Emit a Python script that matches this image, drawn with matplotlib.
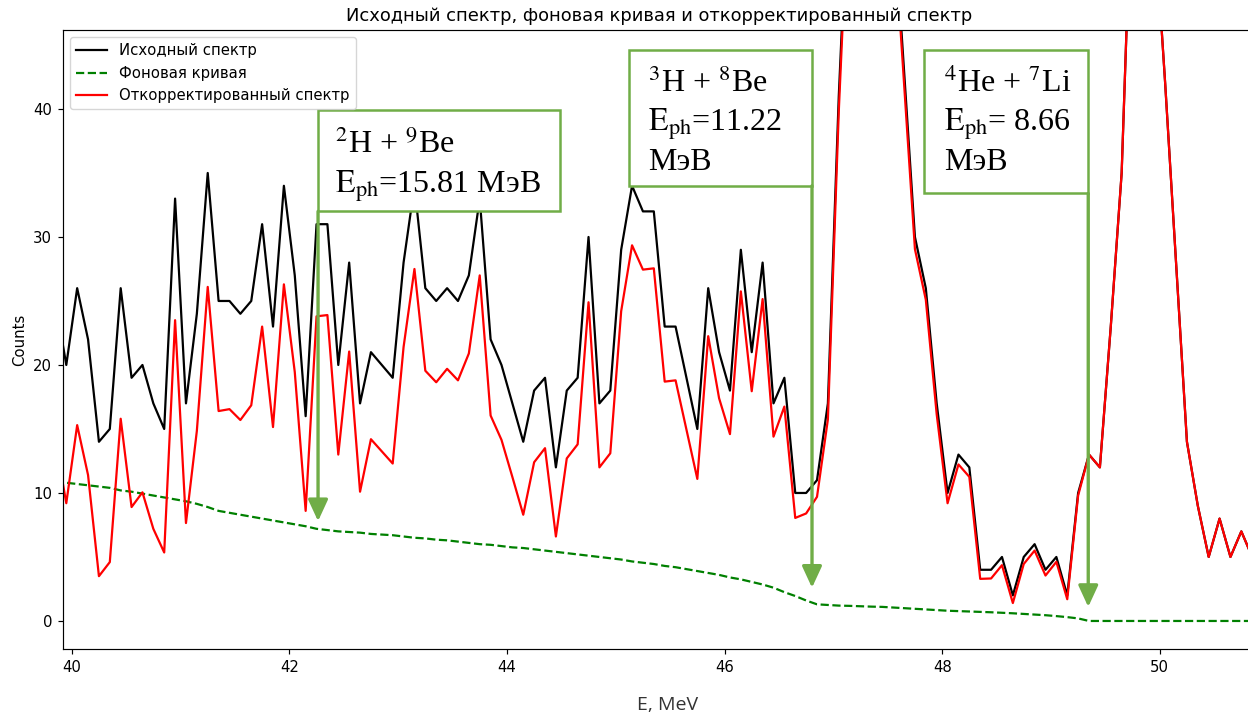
import numpy as np
import matplotlib
matplotlib.use("Agg")
import matplotlib.pyplot as plt
from matplotlib.patches import Rectangle

plt.rcParams["mathtext.fontset"] = "stix"

# Energy grid: bin centres, 0.1 MeV step
energy_start, energy_stop, n_bins = 39.85, 50.85, 111

# Raw spectrum (counts per bin)
raw_counts = [
    25, 20, 26, 22, 14, 15, 26, 19, 20, 17,
    15, 33, 17, 24, 35, 25, 25, 24, 25, 31,
    23, 34, 27, 16, 31, 31, 20, 28, 17, 21,
    20, 19, 28, 34, 26, 25, 26, 25, 27, 33,
    22, 20, 17, 14, 18, 19, 12, 18, 19, 30,
    17, 18, 29, 34, 32, 32, 23, 23, 19, 15,
    26, 21, 18, 29, 21, 28, 17, 19, 10, 10,
    11, 17, 41, 60, 85, 96, 80, 56, 43, 30,
    26, 17, 10, 13, 12, 4, 4, 5, 2, 5,
    6, 4, 5, 2, 10, 13, 12, 23, 35, 60,
    68, 55, 42, 28, 14, 9, 5, 8, 5, 7,
    5,
]

# Estimated background under the spectrum
background = [
    10.9, 10.8, 10.7, 10.6, 10.5, 10.4, 10.2, 10.1, 9.95, 9.8,
    9.65, 9.5, 9.35, 9.15, 8.9, 8.6, 8.45, 8.3, 8.15, 8.0,
    7.85, 7.7, 7.55, 7.4, 7.2, 7.1, 7.0, 6.95, 6.9, 6.8,
    6.75, 6.7, 6.6, 6.5, 6.45, 6.35, 6.3, 6.2, 6.1, 6.0,
    5.95, 5.85, 5.75, 5.7, 5.6, 5.5, 5.4, 5.3, 5.2, 5.1,
    5.0, 4.9, 4.8, 4.65, 4.55, 4.45, 4.3, 4.2, 4.05, 3.9,
    3.75, 3.6, 3.4, 3.25, 3.05, 2.85, 2.6, 2.25, 1.95, 1.6,
    1.3, 1.25, 1.2, 1.18, 1.15, 1.12, 1.1, 1.05, 1.0, 0.95,
    0.9, 0.85, 0.8, 0.77, 0.74, 0.71, 0.68, 0.64, 0.6, 0.55,
    0.5, 0.45, 0.38, 0.3, 0.2, 0.0, 0.0, 0.0, 0.0, 0.0,
    0.0, 0.0, 0.0, 0.0, 0.0, 0.0, 0.0, 0.0, 0.0, 0.0,
    0.0,
]

# Reaction annotations: box (x0, x1, y0, y1), text lines, arrow (x, y_tip)
reactions = [
    {"box": (42.264, 44.488, 32.0, 39.9),
     "lines": [r"${}^{2}$H + ${}^{9}$Be", r"$\mathrm{E}_{\mathrm{ph}}$=15.81 МэВ"],
     "baselines": [36.56, 33.44], "text_x": 42.42,
     "arrow": (42.264, 7.8)},
    {"box": (45.122, 46.804, 34.0, 44.6),
     "lines": [r"${}^{3}$H + ${}^{8}$Be", r"$\mathrm{E}_{\mathrm{ph}}$=11.22", "МэВ"],
     "baselines": [41.33, 38.28, 35.23], "text_x": 45.30,
     "arrow": (46.804, 2.6)},
    {"box": (47.836, 49.343, 33.4, 44.6),
     "lines": [r"${}^{4}$He + ${}^{7}$Li", r"$\mathrm{E}_{\mathrm{ph}}$= 8.66", "МэВ"],
     "baselines": [41.33, 38.28, 35.23], "text_x": 48.02,
     "arrow": (49.343, 1.1)},
]

energy = np.linspace(energy_start, energy_stop, n_bins)
raw = np.asarray(raw_counts, dtype=float)
bg = np.asarray(background, dtype=float)
corrected = raw - bg

fig = plt.figure(figsize=(12.48, 7.17), dpi=100)
ax = fig.add_axes([0.05024, 0.09484, 0.9554, 0.8633])

ax.plot(energy, raw, color="black", lw=1.6, label="Исходный спектр")
ax.plot(energy, bg, color="green", lw=1.6, ls="--", label="Фоновая кривая")
ax.plot(energy, corrected, color="red", lw=1.6, label="Откорректированный спектр")

ax.set_xlim(39.917, 50.876)
ax.set_ylim(-2.19, 46.17)
ax.set_xticks([40, 42, 44, 46, 48, 50])
ax.set_yticks([0, 10, 20, 30, 40])
ax.tick_params(labelsize=10.7, length=3.8, pad=3.8, width=0.85)
for s in ax.spines.values():
    s.set_linewidth(0.85)
ax.set_ylabel("Counts", fontsize=10.7, labelpad=4.5)
ax.set_title("Исходный спектр, фоновая кривая и откорректированный спектр",
             fontsize=12.9, pad=6.5)
ax.legend(loc="upper left", fontsize=10.7, handlelength=2.1)

fig.text(668 / 1248, 1 - 705 / 717, "E, MeV", family="Open Sans", fontsize=14,
         ha="center", va="center", color="#333333")

accent = "#70AD47"
for r in reactions:
    x0, x1, y0, y1 = r["box"]
    ax.add_patch(Rectangle((x0, y0), x1 - x0, y1 - y0, facecolor="white",
                           edgecolor=accent, lw=1.8, zorder=5, clip_on=False))
    for line, yb in zip(r["lines"], r["baselines"]):
        ax.text(r["text_x"], yb, line, family="Liberation Serif", fontsize=23,
                ha="left", va="baseline", zorder=6)
    ax_x, tip_y = r["arrow"]
    ax.annotate("", xy=(ax_x, tip_y), xytext=(ax_x, y0),
                arrowprops=dict(arrowstyle="-|>,head_length=0.65,head_width=0.3",
                                color=accent, lw=2.4, shrinkA=0, shrinkB=0,
                                mutation_scale=20),
                zorder=6)

fig.savefig("out.png", dpi=100)
